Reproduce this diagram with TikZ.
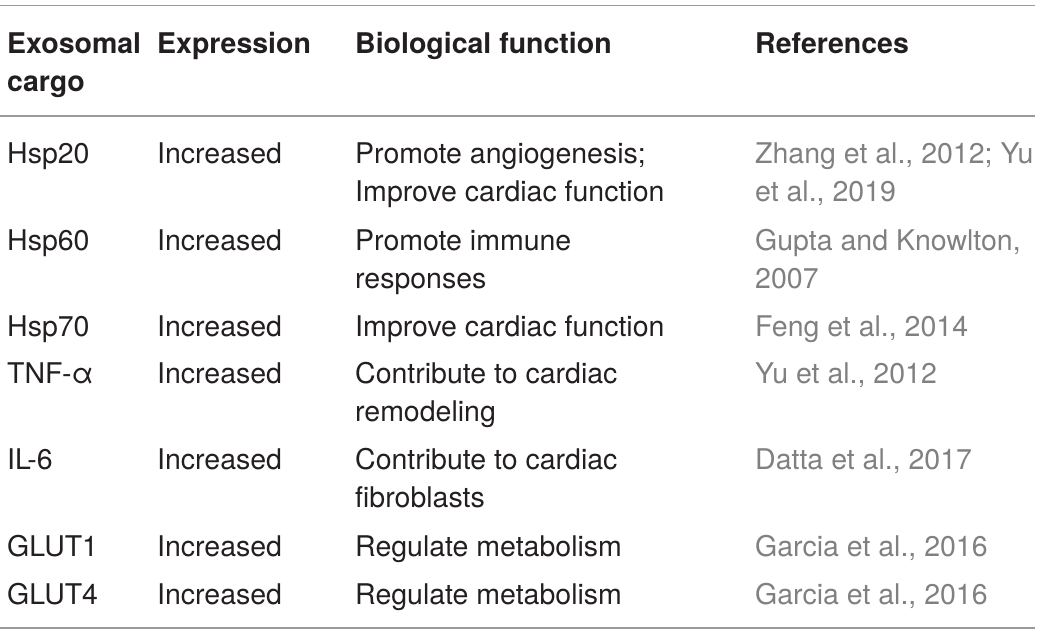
\documentclass[tikz,border=0pt]{standalone}
\usepackage{fontspec}
\setmainfont{TeX Gyre Heros}
\definecolor{ink}{HTML}{231F20}
\definecolor{refgray}{HTML}{808080}
\definecolor{rulegray}{HTML}{9A9A9A}

\begin{document}
\begin{tikzpicture}[x=1pt,y=-1pt,
                    cell/.style={anchor=base west,inner sep=0pt,align=left,text=ink,
                                 font=\fontsize{28.5}{38}\selectfont},
                    head/.style={cell,font=\fontsize{28.5}{38}\selectfont\bfseries},
                    ref/.style={cell,text=refgray},
                    rule/.style={draw=rulegray,line width=1.5pt}]
  \useasboundingbox (0,0) rectangle (1040,635);
  \draw[rule] (0,5.5) -- (1035,5.5);
  \draw[rule] (0,116) -- (1035,116);
  \draw[rule] (0,628) -- (1035,628);
  % header (two-line cells sit on their last baseline)
  \node[head] (cargo) at (7,91) {Exosomal\\cargo};
  \node[head] (expr) at (157,53) {Expression};
  \node[head] (func) at (355,53) {Biological function};
  \node[head] (refs) at (755,53) {References};
  % rows
  \node[cell] (c1) at (7,163) {Hsp20};
  \node[cell] (e1) at (157,163) {Increased};
  \node[cell] (f1) at (355,201) {Promote angiogenesis;\\Improve cardiac function};
  \node[ref]  (r1) at (755,201) {Zhang et al., 2012; Yu\\et al., 2019};
  \node[cell] (c2) at (7,250) {Hsp60};
  \node[cell] (e2) at (157,250) {Increased};
  \node[cell] (f2) at (355,288) {Promote immune\\responses};
  \node[ref]  (r2) at (755,288) {Gupta and Knowlton,\\2007};
  \node[cell] (c3) at (7,336) {Hsp70};
  \node[cell] (e3) at (157,336) {Increased};
  \node[cell] (f3) at (355,336) {Improve cardiac function};
  \node[ref]  (r3) at (755,336) {Feng et al., 2014};
  \node[cell] (c4) at (7,383) {TNF-α};
  \node[cell] (e4) at (157,383) {Increased};
  \node[cell] (f4) at (355,421) {Contribute to cardiac\\remodeling};
  \node[ref]  (r4) at (755,383) {Yu et al., 2012};
  \node[cell] (c5) at (7,469) {IL-6};
  \node[cell] (e5) at (157,469) {Increased};
  \node[cell] (f5) at (355,507) {Contribute to cardiac\\fibroblasts};
  \node[ref]  (r5) at (755,469) {Datta et al., 2017};
  \node[cell] (c6) at (7,556) {GLUT1};
  \node[cell] (e6) at (157,556) {Increased};
  \node[cell] (f6) at (355,556) {Regulate metabolism};
  \node[ref]  (r6) at (755,556) {Garcia et al., 2016};
  \node[cell] (c7) at (7,604) {GLUT4};
  \node[cell] (e7) at (157,604) {Increased};
  \node[cell] (f7) at (355,604) {Regulate metabolism};
  \node[ref]  (r7) at (755,604) {Garcia et al., 2016};
\end{tikzpicture}
\end{document}
